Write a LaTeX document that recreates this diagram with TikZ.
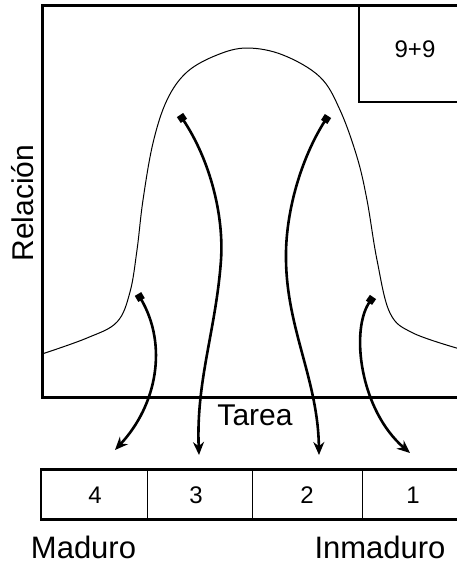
\documentclass[tikz,border=0pt]{standalone}
\usepackage{fontspec}
\setmainfont{Liberation Sans}
\usetikzlibrary{arrows.meta}
\begin{document}
\begin{tikzpicture}[x=1pt,y=-1pt,
  axis/.style={line width=2.4pt},
  thinline/.style={line width=1pt},
  lbl/.style={font=\fontsize{30}{36}\selectfont, inner sep=0pt, anchor=base},
  num/.style={font=\fontsize{24}{28}\selectfont, inner sep=0pt, anchor=base},
  small/.style={font=\fontsize{24}{28}\selectfont, inner sep=0pt, anchor=base},
  conn/.style={line width=2.6pt, {Square[length=7pt,width=7.5pt]}-{Stealth[length=13pt,width=11pt]}},
]
\useasboundingbox (0,0) rectangle (457,563);
\clip (0,0) rectangle (457,563);

% axes
\draw[axis] (470,5.5) -- (42.5,5.5) -- (42.5,397.5) -- (470,397.5);
% 9+9 box
\draw[axis, line width=2.2pt] (470,102) -- (359,102) -- (359,5.5);
\node[small] (nine) at (415,57) {9+9};

% bell curve
\draw[thinline] plot[smooth, tension=0.6] coordinates {
  (42,354) (87,338) (117,322) (130,292) (137,250) (143,200) (153,143)
  (167,100) (187,72) (217,55) (247,48) (283,55) (320,77) (340,110)
  (357,157) (367,200) (377,260) (390,313) (413,333) (460,349)};

% labels
\node[lbl] (tarea) at (255,425) {Tarea};
\node[lbl, rotate=90] (rel) at (33,203) {Relación};

% bottom box
\draw[axis] (470,469.5) -- (41.2,469.5) -- (41.2,519.5) -- (470,519.5);
\draw[thinline] (147,469.5) -- (147,519.5);
\draw[thinline] (252,469.5) -- (252,519.5);
\draw[thinline] (362,469.5) -- (362,519.5);
\node[num] (n4) at (95,503) {4};
\node[num] (n3) at (196,503) {3};
\node[num] (n2) at (307,503) {2};
\node[num] (n1) at (413,503) {1};

\node[lbl, font=\fontsize{31}{36}\selectfont] (mad) at (83.5,558) {Maduro};
\node[lbl, font=\fontsize{31}{36}\selectfont] (inm) at (380,558) {Inmaduro};

% connectors
\coordinate (sA) at (138,294);
\coordinate (eA) at (115,450);
\coordinate (sB) at (180,115);
\coordinate (mB) at (221,260);
\coordinate (eB) at (199,455);
\coordinate (sC) at (328,116);
\coordinate (mC) at (286,260);
\coordinate (eC) at (319,455);
\coordinate (sD) at (373,297);
\coordinate (eD) at (410,453);

\draw[conn] (sA) .. controls (168,345) and (157,405) .. (eA);
\draw[conn] (sB) .. controls (210,160) and (224,215) .. (mB)
                 .. controls (216,330) and (196,380) .. (eB);
\draw[conn] (sC) .. controls (300,160) and (285,215) .. (mC)
                 .. controls (287,330) and (318,380) .. (eC);
\draw[conn] (sD) .. controls (350,330) and (360,410) .. (eD);
\end{tikzpicture}
\end{document}
